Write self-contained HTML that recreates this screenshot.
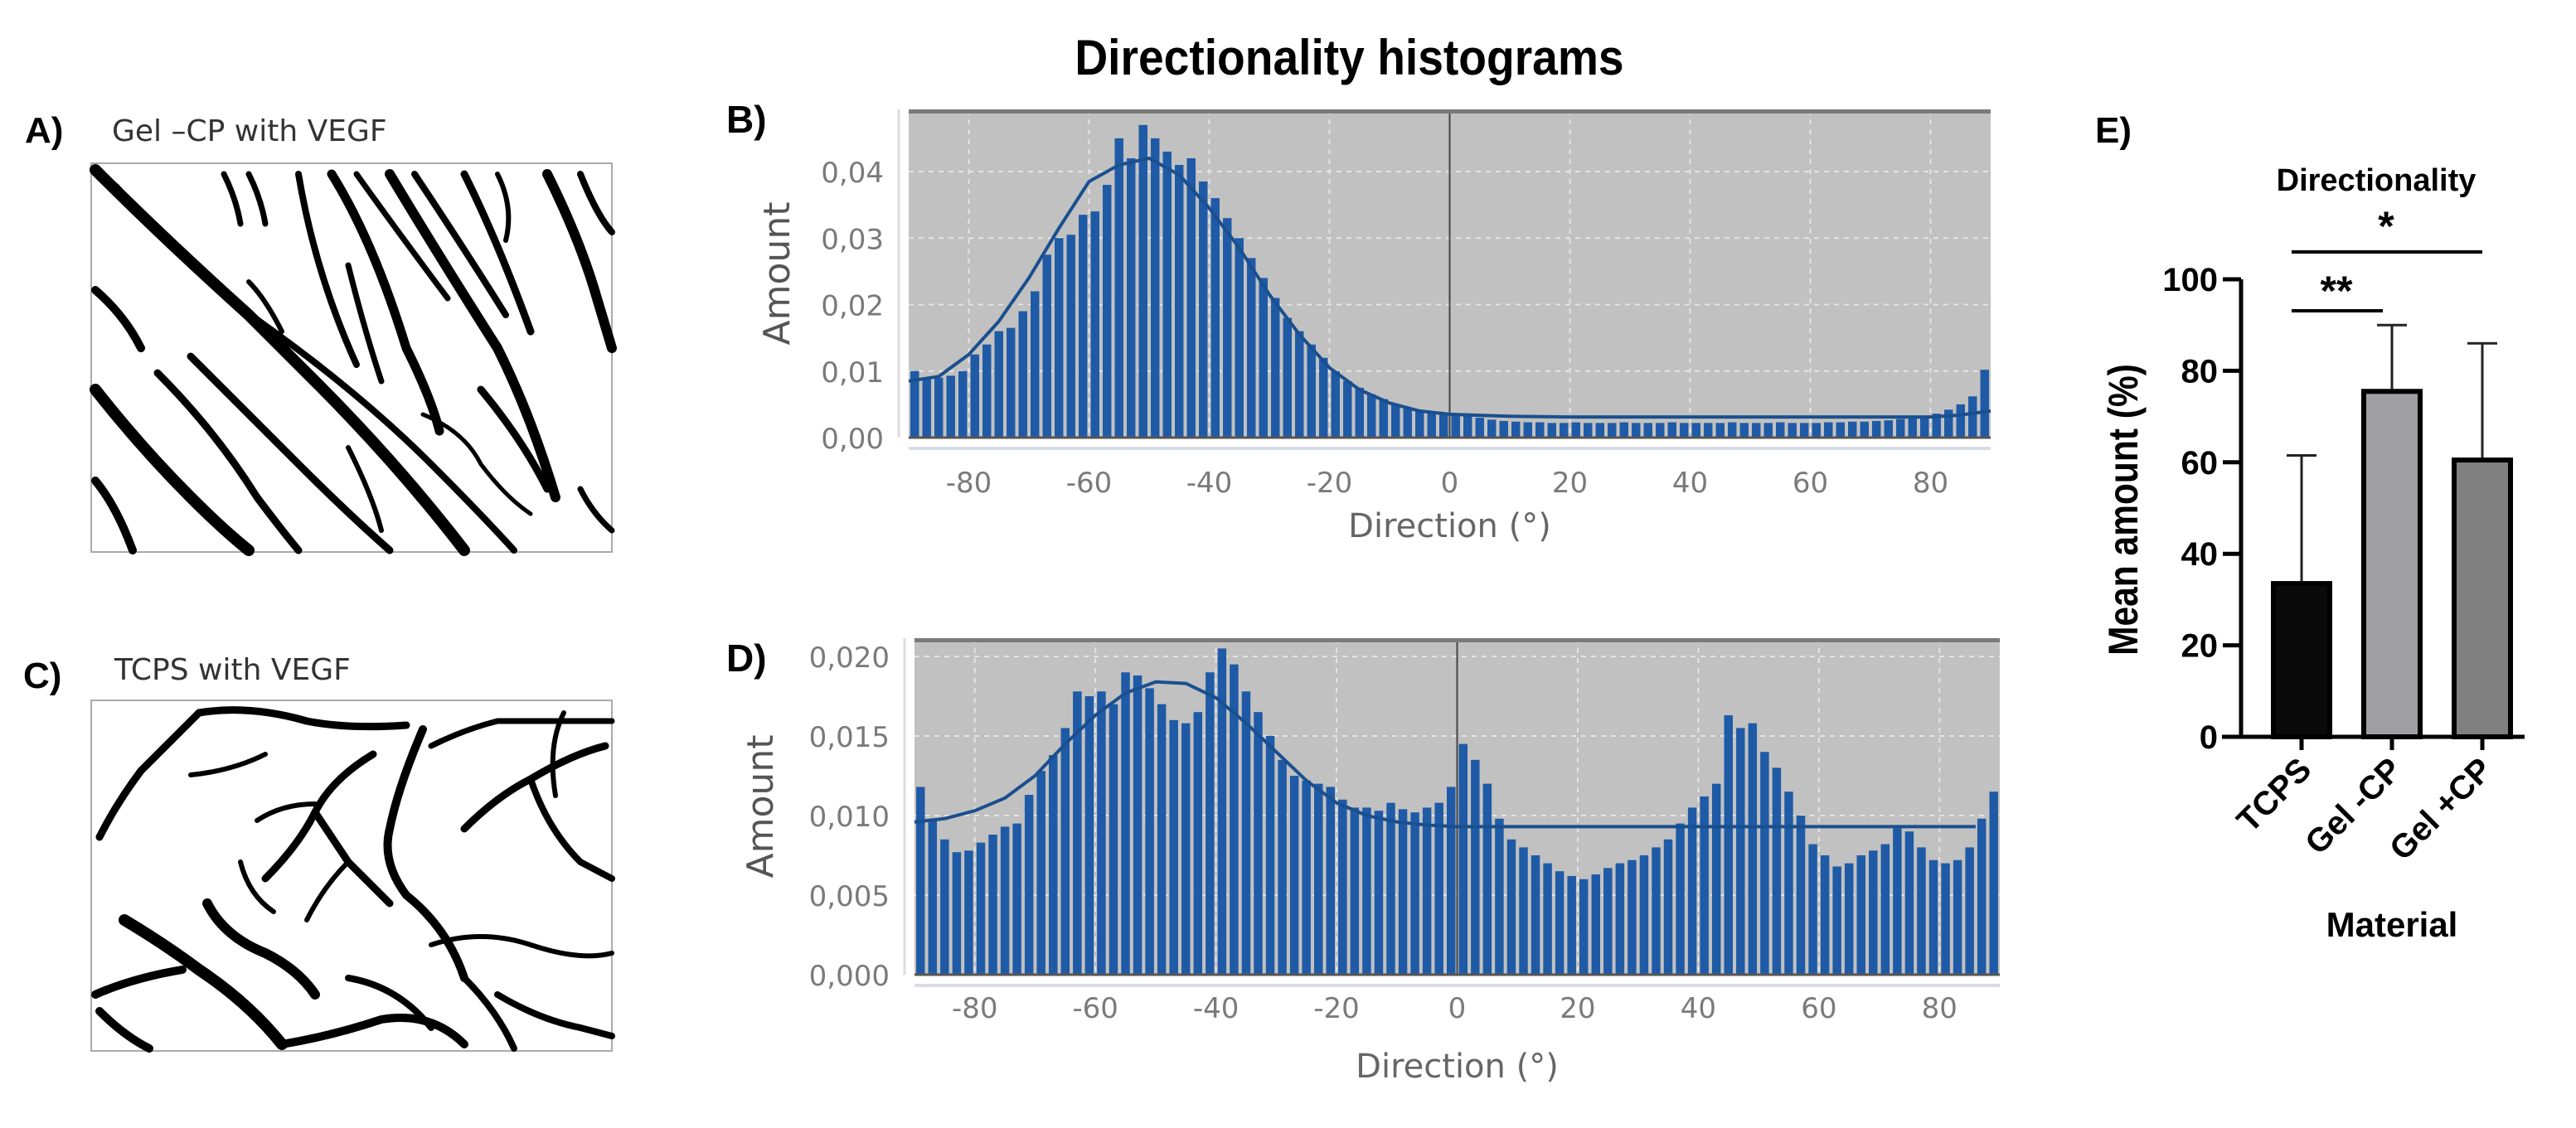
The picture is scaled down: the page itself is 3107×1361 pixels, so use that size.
<!DOCTYPE html>
<html><head><meta charset="utf-8"><style>
html,body{margin:0;padding:0;background:#fff;}
svg{display:block;}
</style></head><body>
<svg id="fig" width="3107" height="1361" viewBox="0 0 3107 1361" xmlns="http://www.w3.org/2000/svg">
<rect x="0" y="0" width="3107" height="1361" fill="#fff"/>
<text x="1628" y="90" text-anchor="middle" font-family="Liberation Sans, sans-serif" font-weight="bold" font-size="60" fill="#000" transform="scale(0.92,1) translate(141,0)">Directionality histograms</text>

<!-- Panel A -->
<g>
<text x="30" y="172" font-family="Liberation Sans, sans-serif" font-weight="bold" font-size="44">A)</text>
<text x="135" y="170" font-family="DejaVu Sans, sans-serif" font-size="36" fill="#333">Gel –CP with VEGF</text>
<rect x="110" y="197" width="628" height="469" fill="#fff" stroke="#aaa" stroke-width="2"/>
<g stroke="#000" fill="none" stroke-linecap="round">
<path d="M115 205 Q200 290 300 380 L380 460 Q480 560 560 664" stroke-width="14"/>
<path d="M140 225 Q230 330 330 400 Q440 480 520 560 Q580 620 620 664" stroke-width="8"/>
<path d="M115 350 Q150 380 170 420" stroke-width="10"/>
<path d="M115 470 Q170 540 230 600 Q270 640 300 664" stroke-width="14"/>
<path d="M115 580 Q140 610 160 664" stroke-width="10"/>
<path d="M190 450 Q260 520 310 600 Q340 640 360 664" stroke-width="9"/>
<path d="M230 430 Q300 500 360 560 Q420 620 470 664" stroke-width="9"/>
<path d="M270 210 Q285 240 290 270" stroke-width="7"/>
<path d="M300 210 Q315 240 320 270" stroke-width="7"/>
<path d="M360 210 Q380 330 430 440" stroke-width="8"/>
<path d="M400 210 Q450 290 490 420 Q520 480 530 520" stroke-width="11"/>
<path d="M430 210 Q480 280 540 360" stroke-width="7"/>
<path d="M470 210 Q530 310 600 420 Q640 500 670 600" stroke-width="12"/>
<path d="M500 210 Q560 300 610 380" stroke-width="8"/>
<path d="M560 210 Q600 290 640 400" stroke-width="9"/>
<path d="M600 210 Q620 250 610 290" stroke-width="6"/>
<path d="M660 210 Q700 290 720 360 L738 420" stroke-width="12"/>
<path d="M700 210 Q720 260 738 280" stroke-width="8"/>
<path d="M420 540 Q450 600 460 640" stroke-width="6"/>
<path d="M510 500 Q560 520 580 560 Q610 600 640 620" stroke-width="5"/>
<path d="M580 470 Q630 530 660 590" stroke-width="9"/>
<path d="M700 590 Q715 620 738 640" stroke-width="7"/>
<path d="M300 340 Q320 360 340 400" stroke-width="6"/>
<path d="M420 320 Q440 400 460 460" stroke-width="7"/>
</g>
</g>

<!-- Panel C -->
<g>
<text x="28" y="830" font-family="Liberation Sans, sans-serif" font-weight="bold" font-size="44">C)</text>
<text x="138" y="820" font-family="DejaVu Sans, sans-serif" font-size="36" fill="#333">TCPS with VEGF</text>
<rect x="110" y="845" width="628" height="423" fill="#fff" stroke="#aaa" stroke-width="2"/>
<g stroke="#000" fill="none" stroke-linecap="round">
<path d="M240 860 Q200 900 170 930 Q140 970 120 1010" stroke-width="9"/>
<path d="M240 860 Q300 850 370 870 Q420 880 490 875" stroke-width="9"/>
<path d="M230 935 Q280 930 320 910" stroke-width="6"/>
<path d="M450 910 Q400 940 380 980 Q360 1020 320 1060" stroke-width="9"/>
<path d="M380 980 Q400 1010 420 1040 Q450 1070 470 1090" stroke-width="9"/>
<path d="M380 970 Q340 970 310 990" stroke-width="6"/>
<path d="M420 1040 Q390 1070 370 1110" stroke-width="6"/>
<path d="M510 880 Q480 950 470 1000 Q460 1040 490 1080 Q540 1120 560 1180" stroke-width="10"/>
<path d="M520 900 Q560 880 600 870 L738 870" stroke-width="7"/>
<path d="M560 1000 Q600 960 640 940 Q690 910 730 900" stroke-width="9"/>
<path d="M640 940 Q660 1000 700 1040 L738 1060" stroke-width="8"/>
<path d="M520 1140 Q580 1120 640 1140 Q700 1160 738 1150" stroke-width="6"/>
<path d="M150 1110 Q200 1140 240 1170 Q300 1210 340 1260" stroke-width="14"/>
<path d="M250 1090 Q270 1130 320 1150 Q360 1170 380 1200" stroke-width="12"/>
<path d="M115 1200 Q160 1180 220 1170" stroke-width="10"/>
<path d="M120 1220 Q150 1250 180 1265" stroke-width="10"/>
<path d="M340 1260 Q400 1250 460 1230 Q520 1220 560 1260" stroke-width="10"/>
<path d="M420 1180 Q480 1190 520 1240" stroke-width="8"/>
<path d="M600 1200 Q650 1230 700 1240 L738 1250" stroke-width="8"/>
<path d="M560 1180 Q600 1220 620 1265" stroke-width="8"/>
<path d="M680 860 Q660 900 670 960" stroke-width="6"/>
<path d="M290 1040 Q300 1080 330 1100" stroke-width="6"/>
</g>
</g>

<g id="chartB"></g>
<g id="chartD"></g>
<g id="chartE"></g>
</svg>
<script>
// ---------- Data ----------
const binCenters = [];
for (let i = 0; i < 90; i++) binCenters.push(-89 + 2 * i);
const xTicks = [-80, -60, -40, -20, 0, 20, 40, 60, 80];

const valuesB = [0.0100,0.0090,0.0090,0.0093,0.0100,0.0125,0.0140,0.0160,0.0165,0.0190,0.0220,0.0275,0.0300,0.0305,0.0335,0.0340,0.0380,0.0450,0.0420,0.0470,0.0450,0.0430,0.0410,0.0420,0.0385,0.0360,0.0330,0.0300,0.0270,0.0240,0.0210,0.0180,0.0160,0.0140,0.0120,0.0100,0.0085,0.0075,0.0065,0.0058,0.0050,0.0045,0.0040,0.0038,0.0035,0.0033,0.0032,0.0030,0.0027,0.0025,0.0024,0.0023,0.0023,0.0022,0.0022,0.0023,0.0022,0.0022,0.0022,0.0023,0.0022,0.0022,0.0022,0.0023,0.0022,0.0022,0.0022,0.0022,0.0023,0.0022,0.0022,0.0022,0.0023,0.0022,0.0022,0.0022,0.0023,0.0023,0.0024,0.0024,0.0025,0.0026,0.0028,0.0030,0.0033,0.0036,0.0042,0.0050,0.0062,0.0102];
const fitXB = [-90,-85,-80,-75,-70,-65,-60,-55,-50,-45,-40,-35,-30,-25,-20,-15,-10,-5,0,10,20,40,60,80,85,90];
const fitYB = [0.0085,0.0092,0.0125,0.0175,0.0240,0.0315,0.0385,0.0410,0.0420,0.0395,0.0345,0.0285,0.0215,0.0155,0.0105,0.0072,0.0052,0.0040,0.0035,0.0032,0.0031,0.0031,0.0031,0.0031,0.0034,0.0040];
const yTicksB = [0, 0.01, 0.02, 0.03, 0.04];
const yLabelsB = ["0,00","0,01","0,02","0,03","0,04"];

const valuesD = [0.0118,0.0097,0.0085,0.0077,0.0078,0.0083,0.0088,0.0093,0.0095,0.0113,0.0128,0.0138,0.0155,0.0178,0.0175,0.0178,0.0170,0.0190,0.0188,0.0180,0.0170,0.0160,0.0158,0.0165,0.0190,0.0205,0.0195,0.0178,0.0165,0.0150,0.0135,0.0125,0.0122,0.0120,0.0118,0.0110,0.0105,0.0105,0.0103,0.0108,0.0104,0.0102,0.0105,0.0108,0.0118,0.0145,0.0135,0.0120,0.0098,0.0085,0.0080,0.0075,0.0070,0.0065,0.0062,0.0060,0.0063,0.0067,0.0070,0.0072,0.0075,0.0080,0.0085,0.0095,0.0105,0.0112,0.0120,0.0163,0.0155,0.0158,0.0140,0.0130,0.0115,0.0100,0.0082,0.0075,0.0068,0.0070,0.0075,0.0078,0.0082,0.0092,0.0090,0.0080,0.0072,0.0070,0.0072,0.0080,0.0098,0.0115];
const fitXD = [-90,-85,-80,-75,-70,-65,-60,-55,-50,-45,-40,-35,-30,-25,-20,-15,-10,-5,0,5,20,40,60,86];
const fitYD = [0.0096,0.0098,0.0103,0.0111,0.0125,0.0145,0.0163,0.0177,0.0184,0.0183,0.0174,0.0158,0.0140,0.0122,0.0108,0.0100,0.0096,0.0094,0.0093,0.0093,0.0093,0.0093,0.0093,0.0093];
const yTicksD = [0, 0.005, 0.010, 0.015, 0.020];
const yLabelsD = ["0,000","0,005","0,010","0,015","0,020"];

const categoriesE = ["TCPS", "Gel -CP", "Gel +CP"];
const meansE = [33.5, 75.5, 60.5];
const errTopE = [61.5, 90, 86];
const yTicksE = [0, 20, 40, 60, 80, 100];

const NS = "http://www.w3.org/2000/svg";
function mk(parent, tag, attrs, text) {
  const e = document.createElementNS(NS, tag);
  for (const k in attrs) e.setAttribute(k, attrs[k]);
  if (text !== undefined) e.textContent = text;
  parent.appendChild(e);
  return e;
}

function histogram(g, cfg) {
  const {x0, x1, top, zero, yMax, values, fitX, fitY, yTicks, yLabels, label, labelY, tickY, titleY} = cfg;
  const xs = d => x0 + (d + 90) / 180 * (x1 - x0);
  const ys = v => zero - v / yMax * (zero - cfg.yRef);
  let e;
  e = mk(g, "rect", {x: x0, y: top, width: x1 - x0, height: zero - top, fill: "#c1c1c1"});
  
  
  xTicks.forEach(t => {
    if (t === 0) return;
    e = mk(g, "line", {x1: xs(t), x2: xs(t), y1: top, y2: zero, stroke: "#e4e4e4", "stroke-width": 2, "stroke-dasharray": "6 6"});
    
    
  });
  yTicks.forEach(t => {
    if (t === 0) return;
    e = mk(g, "line", {x1: x0, x2: x1, y1: ys(t), y2: ys(t), stroke: "#e4e4e4", "stroke-width": 2, "stroke-dasharray": "6 6"});
    
    
  });
  const bw = (x1 - x0) / 180 * 2;
  values.forEach((v, i) => {
    const c = binCenters[i];
    e = mk(g, "rect", {x: xs(c) - bw * 0.36, y: ys(v), width: bw * 0.72, height: zero - ys(v), fill: "#1e5aa6"});
    
    
  });
  e = mk(g, "line", {x1: xs(0), x2: xs(0), y1: top, y2: zero, stroke: "#444", "stroke-width": 2});
  
  
  let dpath = fitX.map((d, i) => (i ? "L" : "M") + xs(d).toFixed(1) + " " + ys(fitY[i]).toFixed(1)).join(" ");
  e = mk(g, "path", {d: dpath, fill: "none", stroke: "#1a4f8f", "stroke-width": 4, "stroke-linejoin": "round"});
  
  
  e = mk(g, "rect", {x: x0, y: top, width: x1 - x0, height: 5, fill: "#7a7a7a"});
  
  
  e = mk(g, "line", {x1: x0, x2: x1, y1: zero, y2: zero, stroke: "#555", "stroke-width": 3});
  
  
  e = mk(g, "line", {x1: x0 - 12, x2: x0 - 12, y1: top, y2: zero, stroke: "#ddd", "stroke-width": 3});
  
  
  e = mk(g, "line", {x1: x0, x2: x1, y1: zero + 13, y2: zero + 13, stroke: "#d6dde6", "stroke-width": 4});
  
  
  yTicks.forEach((t, i) => {
    e = mk(g, "text", {x: x0 - 30, y: ys(t) + 13, "text-anchor": "end", "font-family": "DejaVu Sans, sans-serif", "font-size": 34, fill: "#7a7a7a"}, yLabels[i]);
    
    
  });
  xTicks.forEach(t => {
    e = mk(g, "text", {x: xs(t), y: tickY, "text-anchor": "middle", "font-family": "DejaVu Sans, sans-serif", "font-size": 34, fill: "#7a7a7a"}, String(t));
    
    
  });
  e = mk(g, "text", {x: xs(0), y: titleY, "text-anchor": "middle", "font-family": "DejaVu Sans, sans-serif", "font-size": 40, fill: "#666"}, "Direction (°)");
  
  
  const my = (top + zero) / 2;
  e = mk(g, "text", {x: 0, y: 0, transform: `translate(${cfg.ytx},${my}) rotate(-90)`, "text-anchor": "middle", "font-family": "DejaVu Sans, sans-serif", "font-size": 44, fill: "#555"}, "Amount");
  
  
  e = mk(g, "text", {x: 876, y: labelY, "font-family": "Liberation Sans, sans-serif", "font-weight": "bold", "font-size": 46, fill: "#000"}, label);
  
  
}

histogram(document.getElementById("chartB"), {x0: 1096, x1: 2401, top: 132, zero: 528, yMax: 0.04, yRef: 207,
  values: valuesB, fitX: fitXB, fitY: fitYB, yTicks: yTicksB, yLabels: yLabelsB, label: "B)", labelY: 160, tickY: 594, titleY: 648, ytx: 952});
histogram(document.getElementById("chartD"), {x0: 1103, x1: 2412, top: 770, zero: 1176, yMax: 0.020, yRef: 792,
  values: valuesD, fitX: fitXD, fitY: fitYD, yTicks: yTicksD, yLabels: yLabelsD, label: "D)", labelY: 810, tickY: 1228, titleY: 1300, ytx: 932});

// ---------- Panel E ----------
(function () {
  const g = document.getElementById("chartE");
  const ax = 2703, zero = 889, y100 = 337;
  const ys = v => zero - v / 100 * (zero - y100);
  const cx = [2776, 2885, 2994];
  const bw = 68;
  const fills = ["#0a0a0a", "#9f9fa3", "#808080"];
  let e;
  e = mk(g, "text", {x: 2527, y: 172, "font-family": "Liberation Sans, sans-serif", "font-weight": "bold", "font-size": 44}, "E)");
  
  
  e = mk(g, "text", {x: 2866, y: 230, "text-anchor": "middle", "font-family": "Liberation Sans, sans-serif", "font-weight": "bold", "font-size": 38}, "Directionality");
  
  
  meansE.forEach((m, i) => {
    e = mk(g, "line", {x1: cx[i], x2: cx[i], y1: ys(errTopE[i]), y2: ys(m), stroke: "#222", "stroke-width": 3});
    
    
    e = mk(g, "line", {x1: cx[i] - 18, x2: cx[i] + 18, y1: ys(errTopE[i]), y2: ys(errTopE[i]), stroke: "#222", "stroke-width": 3});
    
    
    e = mk(g, "rect", {x: cx[i] - bw / 2, y: ys(m), width: bw, height: zero - ys(m), fill: fills[i], stroke: "#000", "stroke-width": 6});
    
    
    e = mk(g, "line", {x1: cx[i], x2: cx[i], y1: zero, y2: zero + 16, stroke: "#000", "stroke-width": 5});
    
    
    e = mk(g, "text", {x: 0, y: 0, transform: `translate(${cx[i] + 14},${zero + 42}) rotate(-45)`, "text-anchor": "end", "font-family": "Liberation Sans, sans-serif", "font-weight": "bold", "font-size": 40}, categoriesE[i]);
    
    
  });
  e = mk(g, "line", {x1: ax, x2: ax, y1: y100, y2: zero, stroke: "#000", "stroke-width": 5});
  
  
  e = mk(g, "line", {x1: 2680, x2: 3045, y1: zero, y2: zero, stroke: "#000", "stroke-width": 5});
  
  
  yTicksE.forEach(t => {
    e = mk(g, "line", {x1: ax - 22, x2: ax, y1: ys(t), y2: ys(t), stroke: "#000", "stroke-width": 5});
    
    
    e = mk(g, "text", {x: ax - 28, y: ys(t) + 14, "text-anchor": "end", "font-family": "Liberation Sans, sans-serif", "font-weight": "bold", "font-size": 40}, String(t));
    
    
  });
  e = mk(g, "text", {x: 0, y: 0, transform: `translate(2578,615) rotate(-90) scale(0.85,1)`, "text-anchor": "middle", "font-family": "Liberation Sans, sans-serif", "font-weight": "bold", "font-size": 50}, "Mean amount (%)");
  
  
  e = mk(g, "text", {x: 2885, y: 1130, "text-anchor": "middle", "font-family": "Liberation Sans, sans-serif", "font-weight": "bold", "font-size": 42}, "Material");
  
  
  e = mk(g, "line", {x1: 2764, x2: 2874, y1: 375, y2: 375, stroke: "#000", "stroke-width": 4});
  
  
  e = mk(g, "text", {x: 2818, y: 368, "text-anchor": "middle", "font-family": "Liberation Sans, sans-serif", "font-weight": "bold", "font-size": 50}, "**");
  
  
  e = mk(g, "line", {x1: 2764, x2: 2994, y1: 304, y2: 304, stroke: "#000", "stroke-width": 4});
  
  
  e = mk(g, "text", {x: 2878, y: 290, "text-anchor": "middle", "font-family": "Liberation Sans, sans-serif", "font-weight": "bold", "font-size": 50}, "*");
  
  
})();
</script>
</body></html>
